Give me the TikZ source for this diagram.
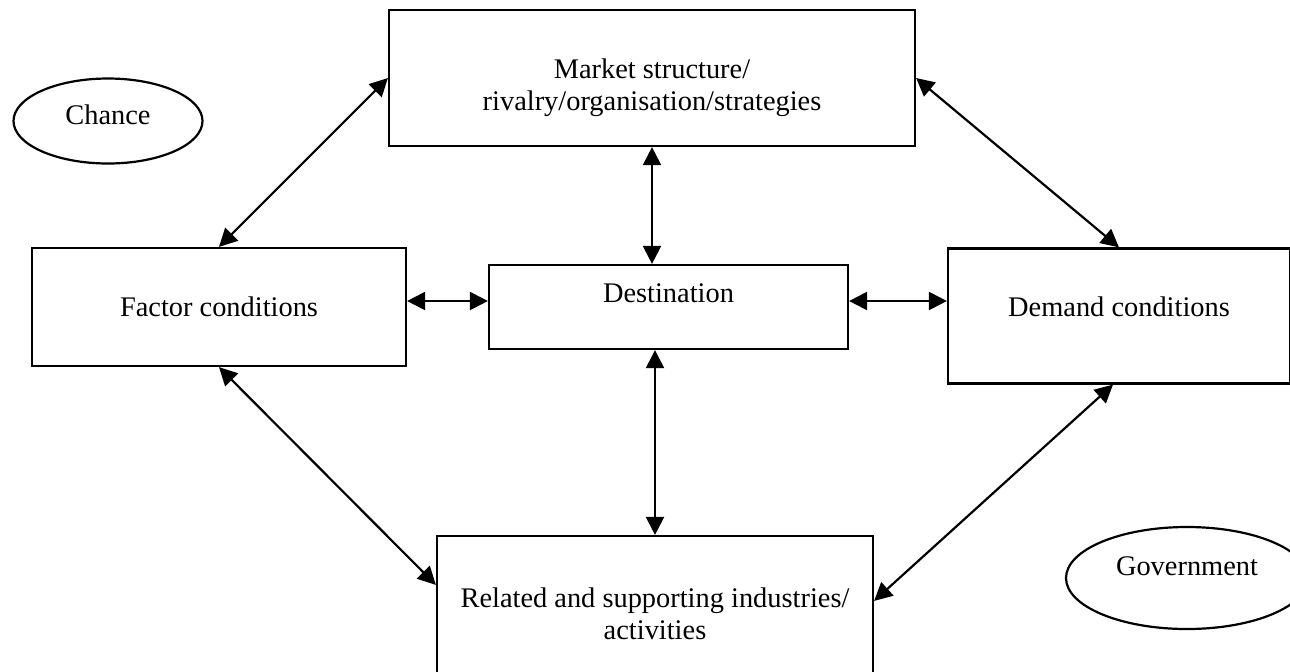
\documentclass[tikz,border=0pt]{standalone}
\usepackage{fontspec}
\setmainfont{Liberation Serif}
\usetikzlibrary{shapes.geometric}
\usetikzlibrary{arrows.meta}
\usetikzlibrary{positioning}
\tikzset{
  box/.style={draw,line width=1.1pt,rectangle,inner sep=0pt,align=center,font=\fontsize{14.2}{16}\selectfont},
  blob/.style={draw,line width=1.1pt,ellipse,inner sep=0pt,font=\fontsize{14.2}{16}\selectfont},
  link/.style={<->,line width=1.1pt}
}
\begin{document}
\begin{tikzpicture}[x=0.5pt,y=-0.5pt,>={Triangle[length=9pt,width=9pt]}]
\useasboundingbox (0,0) rectangle (1290,671);
% outside influences
\node[blob,minimum width=94.5pt,minimum height=42.5pt,text height=9pt,text depth=6pt] (chance) at (108,121) {Chance};
\node[blob,minimum width=121pt,minimum height=51pt,text height=9pt,text depth=12pt] (gov) at (1187,578) {Government};
% the diamond
\node[box,minimum width=263pt,minimum height=68pt] (mkt) at (652,78) {\rule{0pt}{20pt}Market structure/\\rivalry/organisation/strategies};
\node[box,minimum width=187pt,minimum height=59pt] (fac) at (219,307) {Factor conditions};
\node[box,minimum width=179.5pt,minimum height=42pt,text height=10pt,text depth=15pt] (dst) at (668.5,307) {Destination};
\node[box,minimum width=171pt,minimum height=67.5pt,text height=10pt,text depth=10pt] (dem) at (1119,316) {Demand conditions};
\node[box,minimum width=218pt,minimum height=78pt] (rel) at (655,614) {Related and supporting industries/\\activities};
% links
\draw[link] (mkt.west) -- (fac.north);
\draw[link] (mkt.east) -- (dem.north);
\draw[link] (mkt.south) -- (mkt.south |- dst.north);
\draw[link] (rel.north) -- (rel.north |- dst.south);
\draw[link] ([yshift=3pt]fac.east) -- ([yshift=3pt]dst.west);
\draw[link] ([yshift=3pt]dst.east) -- ([yshift=3pt]dst.east -| dem.west);
\draw[link] (fac.south) -- ([yshift=-25pt]rel.north west);
\draw[link] ([xshift=-3pt]dem.south) -- ([yshift=-33pt]rel.north east);
\end{tikzpicture}
\end{document}
